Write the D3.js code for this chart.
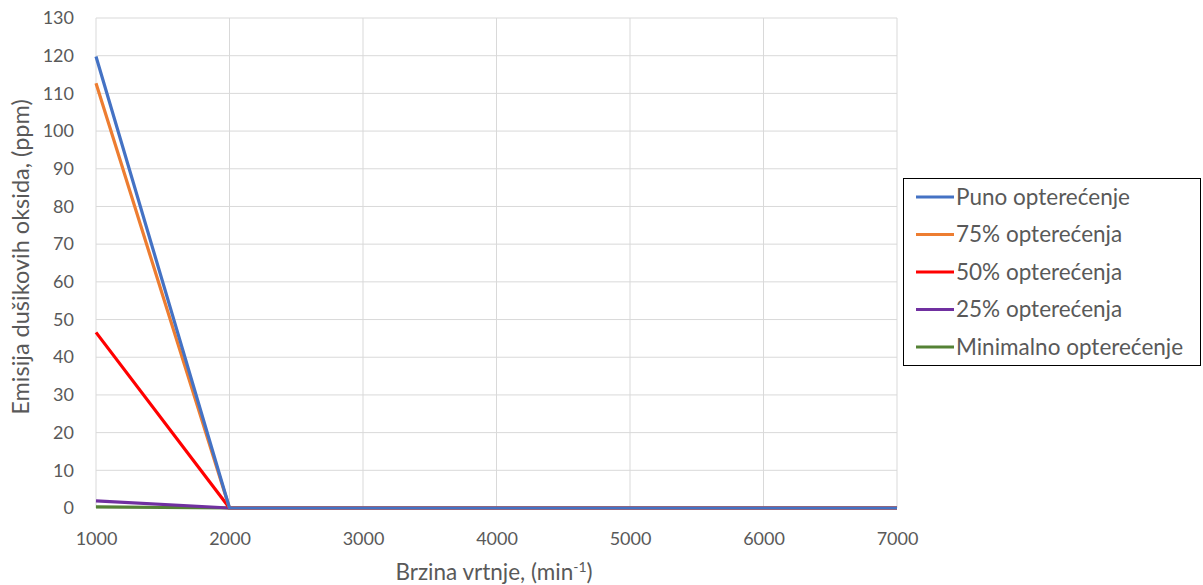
<!DOCTYPE html>
<html><head><meta charset="utf-8">
<script src="https://cdn.jsdelivr.net/npm/d3@7"></script>
<style>body{margin:0;background:#fff}svg{display:block}text{font-family:Lato,"Open Sans",sans-serif;fill:#595959}</style>
</head><body><svg id="c" width="1203" height="585"></svg>
<script>
const speeds = [1000, 2000, 3000, 4000, 5000, 6000, 7000];
const seriesNames = ["Puno opterećenje", "75% opterećenja", "50% opterećenja", "25% opterećenja", "Minimalno opterećenje"];
const puno = [119.8, 0, 0, 0, 0, 0, 0];
const p75 = [112.7, 0, 0, 0, 0, 0, 0];
const p50 = [46.6, 0, 0, 0, 0, 0, 0];
const p25 = [1.9, 0, 0, 0, 0, 0, 0];
const minimal = [0.3, 0, 0, 0, 0, 0, 0];
const colors = ["#4472C4", "#ED7D31", "#FF0000", "#7030A0", "#548235"];
const yTicks = [0,10,20,30,40,50,60,70,80,90,100,110,120,130];
const xTicks = speeds;

const values = [puno, p75, p50, p25, minimal];
const svg = d3.select("#c");
const L = 96, R = 897, T = 18, B = 508;
const x = d3.scaleLinear().domain([1000, 7000]).range([L, R]);
const y = d3.scaleLinear().domain([0, 130]).range([B, T]);

// gridlines
svg.append("g").selectAll("line").data(yTicks).join("line")
  .attr("x1", L).attr("x2", R).attr("y1", d => y(d)).attr("y2", d => y(d))
  .attr("stroke", "#d9d9d9").attr("stroke-width", 1);
svg.append("g").selectAll("line").data(xTicks).join("line")
  .attr("y1", T).attr("y2", B).attr("x1", d => x(d)).attr("x2", d => x(d))
  .attr("stroke", "#d9d9d9").attr("stroke-width", 1);

// axes labels
const yAxis = d3.axisLeft(y).tickValues(yTicks).tickSize(0).tickPadding(22);
const gy = svg.append("g").attr("transform", `translate(${L},0)`).call(yAxis);
gy.select(".domain").remove();
gy.selectAll("text").style("font-size", "18px").attr("fill", "#595959");

const xAxis = d3.axisBottom(x).tickValues(xTicks).tickSize(0).tickPadding(24).tickFormat(d3.format("d"));
const gx = svg.append("g").attr("transform", `translate(0,${B})`).call(xAxis);
gx.select(".domain").remove();
gx.selectAll("text").style("font-size", "18px").attr("fill", "#595959");

// lines (draw from last to first so blue is on top)
const line = d3.line().x((d, i) => x(speeds[i])).y(d => y(d));
for (let k = values.length - 1; k >= 0; k--) {
  svg.append("path").datum(values[k]).attr("d", line)
    .attr("fill", "none").attr("stroke", colors[k]).attr("stroke-width", 3.2)
    .attr("stroke-linejoin", "round");
}

// axis titles
svg.append("text").attr("transform", `translate(29,257) rotate(-90)`)
  .attr("text-anchor", "middle").style("font-size", "23.5px")
  .text("Emisija dušikovih oksida, (ppm)");
const xt = svg.append("text").attr("x", 494).attr("y", 580)
  .attr("text-anchor", "middle").style("font-size", "22.5px");
xt.append("tspan").text("Brzina vrtnje, (min");
xt.append("tspan").attr("dy", -8).style("font-size", "14px").text("-1");
xt.append("tspan").attr("dy", 8).text(")");

// legend
const lg = svg.append("g");
lg.append("rect").attr("x", 903.5).attr("y", 178.5).attr("width", 297).attr("height", 187)
  .attr("fill", "#fff").attr("stroke", "#000").attr("stroke-width", 1);
const ly = d3.scalePoint().domain(seriesNames).range([197, 347]);
seriesNames.forEach((n, i) => {
  lg.append("line").attr("x1", 916).attr("x2", 954).attr("y1", ly(n)).attr("y2", ly(n))
    .attr("stroke", colors[i]).attr("stroke-width", 3);
  lg.append("text").attr("x", 956).attr("y", ly(n)).attr("dy", "0.35em")
    .style("font-size", "22.5px").text(n);
});
</script></body></html>
